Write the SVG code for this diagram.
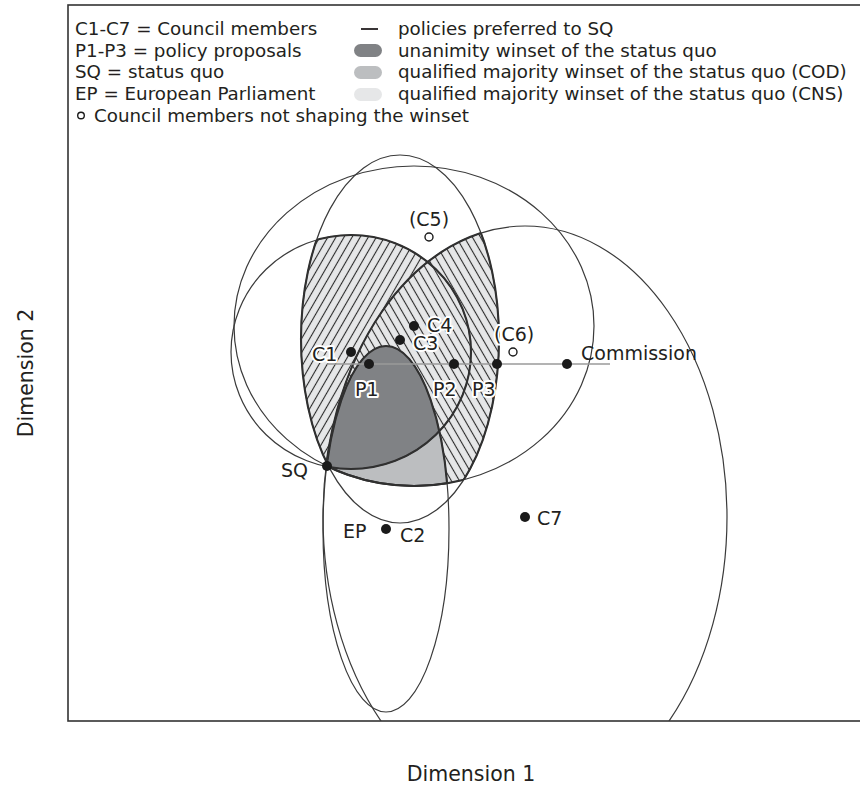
<svg xmlns="http://www.w3.org/2000/svg" width="860" height="787" viewBox="0 0 860 787">
<style>
text { font-family: "DejaVu Sans", "Liberation Sans", sans-serif; fill: #231f20; }
.leg { font-size: 18.3px; }
.lbl { font-size: 19px; }
.halo { paint-order: stroke; stroke: #ffffff; stroke-width: 4px; stroke-linejoin: round; }
.ax { font-size: 20.5px; }
.thin { fill: none; stroke: #3a3a3a; stroke-width: 1.2; }
.thick { fill: none; stroke: #303030; stroke-width: 2.1; }
.dot { fill: #1a1a1a; }
.odot { fill: #ffffff; stroke: #1a1a1a; stroke-width: 1.4; }
.cns { fill: #e6e7e8; }
.cod { fill: #bcbec0; }
.una { fill: #808285; }
</style>
<defs>
<clipPath id="frame"><rect x="68" y="5" width="800" height="716"/></clipPath>
<clipPath id="c1"><ellipse cx="351" cy="352" rx="120" ry="117"/></clipPath>
<clipPath id="c2"><ellipse cx="386" cy="529" rx="63" ry="183"/></clipPath>
<clipPath id="c3"><ellipse cx="400" cy="339" rx="99" ry="184"/></clipPath>
<clipPath id="c4"><ellipse cx="414" cy="326" rx="180" ry="160"/></clipPath>
<clipPath id="c7"><ellipse cx="525" cy="517" rx="202" ry="291"/></clipPath>
<pattern id="hf" width="7" height="7" patternUnits="userSpaceOnUse" patternTransform="rotate(30)"><line x1="3.5" y1="-1" x2="3.5" y2="8" stroke="#2a2a2a" stroke-width="1.1"/></pattern>
<pattern id="hb" width="7" height="7" patternUnits="userSpaceOnUse" patternTransform="rotate(-30)"><line x1="3.5" y1="-1" x2="3.5" y2="8" stroke="#2a2a2a" stroke-width="1.1"/></pattern>
</defs>

<rect x="0" y="0" width="860" height="787" fill="#ffffff"/>

<g id="frame-box" fill="none" stroke="#333333" stroke-width="1.6">
<rect x="68" y="5" width="800" height="716"/>
</g>

<g id="legend">
<text class="leg" x="75" y="35">C1-C7 = Council members</text>
<text class="leg" x="75" y="57">P1-P3 = policy proposals</text>
<text class="leg" x="75" y="78">SQ = status quo</text>
<text class="leg" x="75" y="100">EP = European Parliament</text>
<circle class="odot" cx="81" cy="115.5" r="3.3"/>
<text class="leg" x="94" y="122">Council members not shaping the winset</text>
<line x1="361" y1="29" x2="378" y2="29" stroke="#231f20" stroke-width="1.8"/>
<rect x="354" y="44" width="28" height="13" rx="6.5" class="una"/>
<rect x="354" y="66" width="28" height="13" rx="6.5" class="cod"/>
<rect x="354" y="88" width="28" height="13" rx="6.5" class="cns"/>
<text class="leg" x="398" y="35">policies preferred to SQ</text>
<text class="leg" x="398" y="57">unanimity winset of the status quo</text>
<text class="leg" x="398" y="78">qualified majority winset of the status quo (COD)</text>
<text class="leg" x="398" y="100">qualified majority winset of the status quo (CNS)</text>
</g>

<g id="plot" clip-path="url(#frame)">
<g id="winsets">
<g clip-path="url(#c3)"><g clip-path="url(#c1)">
<rect x="200" y="130" width="440" height="420" class="cns"/>
<rect x="200" y="130" width="440" height="420" fill="url(#hf)"/>
</g></g>
<g clip-path="url(#c3)"><g clip-path="url(#c7)"><g clip-path="url(#c4)">
<rect x="200" y="130" width="440" height="420" class="cns"/>
<rect x="200" y="130" width="440" height="420" fill="url(#hb)"/>
</g></g></g>
<g clip-path="url(#c2)"><g clip-path="url(#c4)">
<rect x="200" y="130" width="440" height="420" class="cod"/>
</g></g>
<g clip-path="url(#c2)"><g clip-path="url(#c1)">
<rect x="200" y="130" width="440" height="420" class="una"/>
</g></g>
</g>

<g id="connectors">
<ellipse id="ell-c1" class="thin" cx="351" cy="352" rx="120" ry="117"/>
<ellipse id="ell-c2" class="thin" cx="386" cy="529" rx="63" ry="183"/>
<ellipse id="ell-c3" class="thin" cx="400" cy="339" rx="99" ry="184"/>
<ellipse id="ell-c4" class="thin" cx="414" cy="326" rx="180" ry="160"/>
<ellipse id="ell-c7" class="thin" cx="525" cy="517" rx="202" ry="291"/>
<g clip-path="url(#c1)"><ellipse class="thick" cx="400" cy="339" rx="99" ry="184"/></g>
<g clip-path="url(#c7)"><g clip-path="url(#c4)"><ellipse class="thick" cx="400" cy="339" rx="99" ry="184"/></g></g>
<g clip-path="url(#c3)"><ellipse class="thick" cx="351" cy="352" rx="120" ry="117"/></g>
<g clip-path="url(#c3)"><g clip-path="url(#c4)"><ellipse class="thick" cx="525" cy="517" rx="202" ry="291"/></g></g>
<g clip-path="url(#c4)"><ellipse class="thick" cx="386" cy="529" rx="63" ry="183"/></g>
<g clip-path="url(#c3)"><g clip-path="url(#c7)"><ellipse class="thick" cx="414" cy="326" rx="180" ry="160"/></g></g>
<g clip-path="url(#c2)"><ellipse class="thick" cx="414" cy="326" rx="180" ry="160"/></g>
<line x1="327" y1="364" x2="610" y2="364" stroke="#9a9a9a" stroke-width="1.6"/>
</g>
</g>

<g id="node-c5"><circle class="odot" cx="429" cy="237" r="4"/><text class="lbl" x="429" y="226" text-anchor="middle">(C5)</text></g>
<g id="node-c6"><circle class="odot" cx="513" cy="352" r="4"/><text class="lbl halo" x="494" y="341">(C6)</text></g>
<g id="node-c1"><circle class="dot" cx="351" cy="352" r="5"/><text class="lbl halo" x="312" y="361">C1</text></g>
<g id="node-p1"><circle class="dot" cx="369" cy="364" r="5"/><text class="lbl halo" x="355" y="396">P1</text></g>
<g id="node-c3"><circle class="dot" cx="400" cy="340" r="5"/><text class="lbl halo" x="413" y="350">C3</text></g>
<g id="node-c4"><circle class="dot" cx="414" cy="326" r="5"/><text class="lbl halo" x="427" y="332">C4</text></g>
<g id="node-p2"><circle class="dot" cx="454" cy="364" r="5"/><text class="lbl halo" x="433" y="396">P2</text></g>
<g id="node-p3"><circle class="dot" cx="497" cy="364" r="5"/><text class="lbl halo" x="472" y="396">P3</text></g>
<g id="node-commission"><circle class="dot" cx="567" cy="364" r="5"/><text class="lbl" x="581" y="360">Commission</text></g>
<g id="node-sq"><circle class="dot" cx="327" cy="466" r="5"/><text class="lbl" x="281" y="477">SQ</text></g>
<g id="node-c2"><circle class="dot" cx="386" cy="529" r="5"/><text class="lbl" x="343" y="538">EP</text><text class="lbl" x="400" y="542">C2</text></g>
<g id="node-c7"><circle class="dot" cx="525" cy="517" r="5"/><text class="lbl" x="537" y="525">C7</text></g>

<text class="ax" x="471" y="781" text-anchor="middle">Dimension 1</text>
<text class="ax" transform="translate(33,373) rotate(-90)" text-anchor="middle">Dimension 2</text>
</svg>
